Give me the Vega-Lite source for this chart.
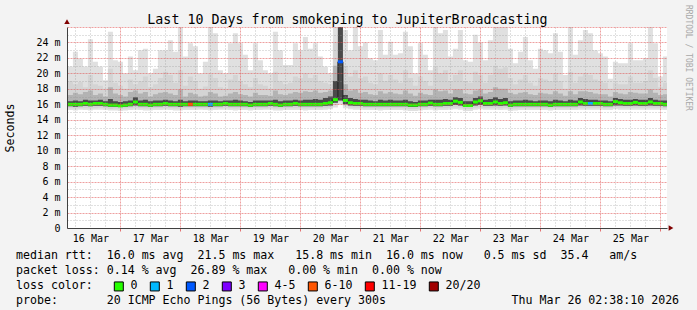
{
  "width": 600,
  "height": 201,
  "autosize": {"type": "none"},
  "padding": {"left": 67, "top": 27, "right": 30, "bottom": 82},
  "background": "#f3f3f3",
  "config": {
    "view": {"fill": "#ffffff", "stroke": null},
    "font": "DejaVu Sans Mono",
    "axis": {"labelFont": "DejaVu Sans Mono", "titleFont": "DejaVu Sans Mono", "titleFontWeight": "normal", "titleColor": "#000000", "labelColor": "#000000"}
  },
  "title": {
    "text": "Last 10 Days from smokeping to JupiterBroadcasting",
    "anchor": "middle", "frame": "group", "dx": -19.5, "dy": 15, "offset": -17.2,
    "baseline": "alphabetic", "font": "DejaVu Sans Mono", "fontSize": 13.3, "fontWeight": "normal", "color": "#000000"
  },
  "data": {"values": [
    {"t":"2026-03-16T02:00:00Z","m":16.0,"h1":20.9,"h2":19.4,"h3":17.4,"h4":16.5,"l1":15.2,"l2":15.45,"l3":15.75,"loss":"0"},
    {"t":"2026-03-16T04:00:00Z","m":16.0,"h1":20.9,"h2":19.0,"h3":17.2,"h4":16.4,"l1":15.25,"l2":15.5,"l3":15.75,"loss":"0"},
    {"t":"2026-03-16T06:00:00Z","m":16.0,"h1":22.8,"h2":18.6,"h3":17.5,"h4":16.5,"l1":15.2,"l2":15.45,"l3":15.7,"loss":"0"},
    {"t":"2026-03-16T08:00:00Z","m":16.0,"h1":21.9,"h2":18.9,"h3":17.3,"h4":16.4,"l1":15.3,"l2":15.5,"l3":15.75,"loss":"0"},
    {"t":"2026-03-16T10:00:00Z","m":16.1,"h1":20.9,"h2":18.2,"h3":17.6,"h4":16.6,"l1":15.25,"l2":15.5,"l3":15.8,"loss":"0"},
    {"t":"2026-03-16T12:00:00Z","m":16.0,"h1":24.4,"h2":19.8,"h3":17.8,"h4":16.5,"l1":15.2,"l2":15.45,"l3":15.75,"loss":"0"},
    {"t":"2026-03-16T14:00:00Z","m":16.1,"h1":21.5,"h2":18.6,"h3":17.2,"h4":16.5,"l1":15.3,"l2":15.5,"l3":15.8,"loss":"0"},
    {"t":"2026-03-16T16:00:00Z","m":16.1,"h1":20.9,"h2":18.4,"h3":17.4,"h4":16.6,"l1":15.3,"l2":15.55,"l3":15.8,"loss":"0"},
    {"t":"2026-03-16T18:00:00Z","m":16.0,"h1":19.1,"h2":18.0,"h3":17.0,"h4":16.4,"l1":15.25,"l2":15.5,"l3":15.75,"loss":"0"},
    {"t":"2026-03-16T20:00:00Z","m":15.9,"h1":25.4,"h2":20.6,"h3":18.2,"h4":16.7,"l1":15.2,"l2":15.4,"l3":15.7,"loss":"0"},
    {"t":"2026-03-16T22:00:00Z","m":15.9,"h1":21.7,"h2":18.8,"h3":17.4,"h4":16.4,"l1":15.2,"l2":15.45,"l3":15.7,"loss":"0"},
    {"t":"2026-03-17T00:00:00Z","m":15.8,"h1":21.5,"h2":18.4,"h3":17.2,"h4":16.3,"l1":15.15,"l2":15.4,"l3":15.65,"loss":"0"},
    {"t":"2026-03-17T02:00:00Z","m":15.9,"h1":20.0,"h2":18.0,"h3":17.0,"h4":16.4,"l1":15.2,"l2":15.45,"l3":15.7,"loss":"0"},
    {"t":"2026-03-17T04:00:00Z","m":16.0,"h1":22.2,"h2":19.2,"h3":17.6,"h4":16.5,"l1":15.25,"l2":15.5,"l3":15.75,"loss":"0"},
    {"t":"2026-03-17T06:00:00Z","m":16.3,"h1":20.4,"h2":18.6,"h3":17.8,"h4":16.9,"l1":15.3,"l2":15.55,"l3":15.85,"loss":"0"},
    {"t":"2026-03-17T08:00:00Z","m":16.0,"h1":23.0,"h2":19.0,"h3":17.4,"h4":16.5,"l1":15.25,"l2":15.5,"l3":15.75,"loss":"0"},
    {"t":"2026-03-17T10:00:00Z","m":16.0,"h1":23.2,"h2":19.6,"h3":17.6,"h4":16.6,"l1":15.2,"l2":15.45,"l3":15.75,"loss":"0"},
    {"t":"2026-03-17T12:00:00Z","m":15.9,"h1":20.0,"h2":18.2,"h3":17.0,"h4":16.4,"l1":15.2,"l2":15.45,"l3":15.7,"loss":"0"},
    {"t":"2026-03-17T14:00:00Z","m":16.0,"h1":20.6,"h2":18.6,"h3":17.3,"h4":16.5,"l1":15.25,"l2":15.5,"l3":15.75,"loss":"0"},
    {"t":"2026-03-17T16:00:00Z","m":16.0,"h1":23.0,"h2":19.4,"h3":17.5,"h4":16.5,"l1":15.25,"l2":15.5,"l3":15.75,"loss":"0"},
    {"t":"2026-03-17T18:00:00Z","m":16.1,"h1":23.0,"h2":20.2,"h3":17.6,"h4":16.6,"l1":15.3,"l2":15.5,"l3":15.8,"loss":"0"},
    {"t":"2026-03-17T20:00:00Z","m":16.0,"h1":24.3,"h2":19.8,"h3":17.4,"h4":16.5,"l1":15.25,"l2":15.5,"l3":15.75,"loss":"0"},
    {"t":"2026-03-17T22:00:00Z","m":16.0,"h1":22.8,"h2":18.8,"h3":17.2,"h4":16.4,"l1":15.2,"l2":15.45,"l3":15.75,"loss":"0"},
    {"t":"2026-03-18T00:00:00Z","m":16.0,"h1":26.5,"h2":20.4,"h3":17.9,"h4":16.6,"l1":15.2,"l2":15.45,"l3":15.7,"loss":"0"},
    {"t":"2026-03-18T02:00:00Z","m":16.0,"h1":22.2,"h2":18.4,"h3":17.0,"h4":16.4,"l1":15.25,"l2":15.5,"l3":15.75,"loss":"0"},
    {"t":"2026-03-18T04:00:00Z","m":16.0,"h1":23.9,"h2":19.6,"h3":17.5,"h4":16.5,"l1":15.25,"l2":15.5,"l3":15.75,"loss":"6-10"},
    {"t":"2026-03-18T06:00:00Z","m":16.0,"h1":23.5,"h2":19.0,"h3":17.3,"h4":16.5,"l1":15.25,"l2":15.5,"l3":15.75,"loss":"0"},
    {"t":"2026-03-18T08:00:00Z","m":16.0,"h1":20.0,"h2":18.0,"h3":17.0,"h4":16.4,"l1":15.3,"l2":15.5,"l3":15.75,"loss":"0"},
    {"t":"2026-03-18T10:00:00Z","m":16.0,"h1":21.5,"h2":18.3,"h3":17.1,"h4":16.4,"l1":15.25,"l2":15.5,"l3":15.75,"loss":"0"},
    {"t":"2026-03-18T12:00:00Z","m":16.0,"h1":26.5,"h2":19.9,"h3":17.6,"h4":16.5,"l1":15.2,"l2":15.45,"l3":15.7,"loss":"1"},
    {"t":"2026-03-18T14:00:00Z","m":16.0,"h1":25.2,"h2":19.4,"h3":17.4,"h4":16.5,"l1":15.25,"l2":15.5,"l3":15.75,"loss":"0"},
    {"t":"2026-03-18T16:00:00Z","m":16.0,"h1":20.4,"h2":18.2,"h3":17.0,"h4":16.4,"l1":15.3,"l2":15.5,"l3":15.75,"loss":"0"},
    {"t":"2026-03-18T18:00:00Z","m":16.1,"h1":20.0,"h2":18.0,"h3":17.1,"h4":16.5,"l1":15.3,"l2":15.55,"l3":15.8,"loss":"0"},
    {"t":"2026-03-18T20:00:00Z","m":16.0,"h1":23.9,"h2":19.2,"h3":17.4,"h4":16.5,"l1":15.25,"l2":15.5,"l3":15.75,"loss":"0"},
    {"t":"2026-03-18T22:00:00Z","m":16.0,"h1":25.2,"h2":19.8,"h3":17.6,"h4":16.6,"l1":15.2,"l2":15.45,"l3":15.75,"loss":"0"},
    {"t":"2026-03-19T00:00:00Z","m":16.0,"h1":23.9,"h2":19.0,"h3":17.3,"h4":16.5,"l1":15.25,"l2":15.5,"l3":15.75,"loss":"0"},
    {"t":"2026-03-19T02:00:00Z","m":16.0,"h1":22.4,"h2":18.6,"h3":17.2,"h4":16.4,"l1":15.25,"l2":15.5,"l3":15.75,"loss":"0"},
    {"t":"2026-03-19T04:00:00Z","m":15.9,"h1":20.4,"h2":18.2,"h3":17.0,"h4":16.3,"l1":15.2,"l2":15.45,"l3":15.7,"loss":"0"},
    {"t":"2026-03-19T06:00:00Z","m":16.0,"h1":23.9,"h2":19.4,"h3":17.5,"h4":16.5,"l1":15.25,"l2":15.5,"l3":15.75,"loss":"0"},
    {"t":"2026-03-19T08:00:00Z","m":16.0,"h1":21.7,"h2":18.6,"h3":17.2,"h4":16.5,"l1":15.25,"l2":15.5,"l3":15.75,"loss":"0"},
    {"t":"2026-03-19T10:00:00Z","m":16.0,"h1":20.4,"h2":18.4,"h3":17.2,"h4":16.5,"l1":15.3,"l2":15.5,"l3":15.75,"loss":"0"},
    {"t":"2026-03-19T12:00:00Z","m":16.1,"h1":20.0,"h2":18.0,"h3":17.1,"h4":16.5,"l1":15.3,"l2":15.55,"l3":15.8,"loss":"0"},
    {"t":"2026-03-19T14:00:00Z","m":16.0,"h1":25.4,"h2":20.2,"h3":17.8,"h4":16.6,"l1":15.2,"l2":15.45,"l3":15.75,"loss":"0"},
    {"t":"2026-03-19T16:00:00Z","m":15.9,"h1":23.0,"h2":19.0,"h3":17.3,"h4":16.4,"l1":15.2,"l2":15.45,"l3":15.7,"loss":"0"},
    {"t":"2026-03-19T18:00:00Z","m":16.0,"h1":21.1,"h2":18.6,"h3":17.2,"h4":16.5,"l1":15.25,"l2":15.5,"l3":15.75,"loss":"0"},
    {"t":"2026-03-19T20:00:00Z","m":16.0,"h1":21.1,"h2":18.8,"h3":17.4,"h4":16.5,"l1":15.25,"l2":15.5,"l3":15.75,"loss":"0"},
    {"t":"2026-03-19T22:00:00Z","m":16.1,"h1":23.9,"h2":19.6,"h3":17.6,"h4":16.6,"l1":15.25,"l2":15.5,"l3":15.8,"loss":"0"},
    {"t":"2026-03-20T00:00:00Z","m":16.0,"h1":23.0,"h2":19.4,"h3":17.5,"h4":16.5,"l1":15.25,"l2":15.5,"l3":15.75,"loss":"0"},
    {"t":"2026-03-20T02:00:00Z","m":16.0,"h1":24.7,"h2":20.0,"h3":17.7,"h4":16.6,"l1":15.2,"l2":15.45,"l3":15.75,"loss":"0"},
    {"t":"2026-03-20T04:00:00Z","m":16.0,"h1":23.2,"h2":19.4,"h3":17.6,"h4":16.6,"l1":15.25,"l2":15.5,"l3":15.75,"loss":"0"},
    {"t":"2026-03-20T06:00:00Z","m":16.0,"h1":23.9,"h2":19.8,"h3":17.8,"h4":16.7,"l1":15.25,"l2":15.5,"l3":15.75,"loss":"0"},
    {"t":"2026-03-20T08:00:00Z","m":16.0,"h1":22.2,"h2":19.0,"h3":17.5,"h4":16.6,"l1":15.25,"l2":15.5,"l3":15.75,"loss":"0"},
    {"t":"2026-03-20T10:00:00Z","m":16.1,"h1":20.9,"h2":18.8,"h3":17.6,"h4":16.8,"l1":15.3,"l2":15.55,"l3":15.8,"loss":"0"},
    {"t":"2026-03-20T12:00:00Z","m":16.2,"h1":20.0,"h2":18.6,"h3":17.8,"h4":17.0,"l1":15.35,"l2":15.6,"l3":15.85,"loss":"0"},
    {"t":"2026-03-20T14:00:00Z","m":16.6,"h1":26.5,"h2":24.0,"h3":21.0,"h4":19.0,"l1":15.6,"l2":15.9,"l3":16.2,"loss":"0"},
    {"t":"2026-03-20T16:00:00Z","m":21.5,"h1":26.5,"h2":26.5,"h3":26.5,"h4":26.5,"l1":16.0,"l2":16.3,"l3":16.5,"loss":"2"},
    {"t":"2026-03-20T18:00:00Z","m":16.5,"h1":25.6,"h2":21.0,"h3":18.6,"h4":17.2,"l1":15.5,"l2":15.8,"l3":16.0,"loss":"0"},
    {"t":"2026-03-20T20:00:00Z","m":16.2,"h1":23.0,"h2":19.6,"h3":17.8,"h4":16.8,"l1":15.35,"l2":15.6,"l3":15.85,"loss":"0"},
    {"t":"2026-03-20T22:00:00Z","m":16.1,"h1":26.5,"h2":20.4,"h3":17.9,"h4":16.7,"l1":15.3,"l2":15.55,"l3":15.8,"loss":"0"},
    {"t":"2026-03-21T00:00:00Z","m":16.1,"h1":23.5,"h2":19.4,"h3":17.5,"h4":16.6,"l1":15.3,"l2":15.55,"l3":15.8,"loss":"0"},
    {"t":"2026-03-21T02:00:00Z","m":16.0,"h1":24.0,"h2":19.6,"h3":17.6,"h4":16.6,"l1":15.25,"l2":15.5,"l3":15.75,"loss":"0"},
    {"t":"2026-03-21T04:00:00Z","m":16.0,"h1":21.95,"h2":18.8,"h3":17.3,"h4":16.5,"l1":15.25,"l2":15.5,"l3":15.75,"loss":"0"},
    {"t":"2026-03-21T06:00:00Z","m":16.0,"h1":21.7,"h2":18.6,"h3":17.2,"h4":16.4,"l1":15.25,"l2":15.5,"l3":15.75,"loss":"0"},
    {"t":"2026-03-21T08:00:00Z","m":16.0,"h1":25.6,"h2":20.0,"h3":17.7,"h4":16.6,"l1":15.2,"l2":15.45,"l3":15.75,"loss":"0"},
    {"t":"2026-03-21T10:00:00Z","m":16.0,"h1":22.4,"h2":19.0,"h3":17.4,"h4":16.5,"l1":15.25,"l2":15.5,"l3":15.75,"loss":"0"},
    {"t":"2026-03-21T12:00:00Z","m":16.0,"h1":24.1,"h2":19.8,"h3":17.6,"h4":16.6,"l1":15.25,"l2":15.5,"l3":15.75,"loss":"0"},
    {"t":"2026-03-21T14:00:00Z","m":16.0,"h1":22.4,"h2":19.2,"h3":17.4,"h4":16.5,"l1":15.25,"l2":15.5,"l3":15.75,"loss":"0"},
    {"t":"2026-03-21T16:00:00Z","m":16.0,"h1":22.6,"h2":18.8,"h3":17.3,"h4":16.5,"l1":15.25,"l2":15.5,"l3":15.75,"loss":"0"},
    {"t":"2026-03-21T18:00:00Z","m":16.0,"h1":25.4,"h2":20.4,"h3":17.8,"h4":16.6,"l1":15.2,"l2":15.45,"l3":15.75,"loss":"0"},
    {"t":"2026-03-21T20:00:00Z","m":15.9,"h1":23.5,"h2":19.4,"h3":17.4,"h4":16.4,"l1":15.15,"l2":15.4,"l3":15.65,"loss":"0"},
    {"t":"2026-03-21T22:00:00Z","m":15.9,"h1":20.0,"h2":18.4,"h3":17.1,"h4":16.3,"l1":15.15,"l2":15.4,"l3":15.65,"loss":"0"},
    {"t":"2026-03-22T00:00:00Z","m":16.0,"h1":23.9,"h2":19.6,"h3":17.5,"h4":16.5,"l1":15.2,"l2":15.45,"l3":15.75,"loss":"0"},
    {"t":"2026-03-22T02:00:00Z","m":16.0,"h1":22.4,"h2":19.0,"h3":17.3,"h4":16.5,"l1":15.25,"l2":15.5,"l3":15.75,"loss":"0"},
    {"t":"2026-03-22T04:00:00Z","m":16.15,"h1":20.4,"h2":18.4,"h3":17.2,"h4":16.6,"l1":15.3,"l2":15.55,"l3":15.8,"loss":"0"},
    {"t":"2026-03-22T06:00:00Z","m":16.0,"h1":26.5,"h2":20.8,"h3":17.9,"h4":16.6,"l1":15.2,"l2":15.45,"l3":15.75,"loss":"0"},
    {"t":"2026-03-22T08:00:00Z","m":16.0,"h1":25.2,"h2":20.0,"h3":17.7,"h4":16.6,"l1":15.25,"l2":15.5,"l3":15.75,"loss":"0"},
    {"t":"2026-03-22T10:00:00Z","m":16.1,"h1":25.6,"h2":20.4,"h3":17.8,"h4":16.7,"l1":15.25,"l2":15.5,"l3":15.8,"loss":"0"},
    {"t":"2026-03-22T12:00:00Z","m":16.1,"h1":22.2,"h2":19.0,"h3":17.4,"h4":16.6,"l1":15.3,"l2":15.55,"l3":15.8,"loss":"0"},
    {"t":"2026-03-22T14:00:00Z","m":16.4,"h1":23.2,"h2":19.8,"h3":17.9,"h4":16.9,"l1":15.35,"l2":15.6,"l3":15.9,"loss":"0"},
    {"t":"2026-03-22T16:00:00Z","m":16.25,"h1":25.6,"h2":20.4,"h3":17.9,"h4":16.8,"l1":15.3,"l2":15.55,"l3":15.85,"loss":"0"},
    {"t":"2026-03-22T18:00:00Z","m":15.85,"h1":21.7,"h2":19.0,"h3":17.4,"h4":16.4,"l1":15.15,"l2":15.4,"l3":15.65,"loss":"0"},
    {"t":"2026-03-22T20:00:00Z","m":15.85,"h1":21.5,"h2":18.8,"h3":17.3,"h4":16.4,"l1":15.15,"l2":15.4,"l3":15.65,"loss":"0"},
    {"t":"2026-03-22T22:00:00Z","m":16.3,"h1":25.0,"h2":20.2,"h3":17.8,"h4":16.8,"l1":15.3,"l2":15.55,"l3":15.85,"loss":"0"},
    {"t":"2026-03-23T00:00:00Z","m":16.45,"h1":24.0,"h2":19.8,"h3":17.9,"h4":17.0,"l1":15.35,"l2":15.6,"l3":15.9,"loss":"0"},
    {"t":"2026-03-23T02:00:00Z","m":16.1,"h1":21.7,"h2":18.8,"h3":17.4,"h4":16.6,"l1":15.3,"l2":15.55,"l3":15.8,"loss":"0"},
    {"t":"2026-03-23T04:00:00Z","m":16.1,"h1":24.3,"h2":19.8,"h3":17.6,"h4":16.7,"l1":15.3,"l2":15.55,"l3":15.8,"loss":"0"},
    {"t":"2026-03-23T06:00:00Z","m":16.3,"h1":26.5,"h2":21.0,"h3":18.2,"h4":16.9,"l1":15.3,"l2":15.55,"l3":15.85,"loss":"0"},
    {"t":"2026-03-23T08:00:00Z","m":16.1,"h1":26.5,"h2":20.6,"h3":18.0,"h4":16.7,"l1":15.25,"l2":15.5,"l3":15.8,"loss":"0"},
    {"t":"2026-03-23T10:00:00Z","m":16.2,"h1":26.5,"h2":20.8,"h3":18.0,"h4":16.8,"l1":15.3,"l2":15.55,"l3":15.85,"loss":"0"},
    {"t":"2026-03-23T12:00:00Z","m":15.9,"h1":23.2,"h2":19.4,"h3":17.5,"h4":16.4,"l1":15.15,"l2":15.4,"l3":15.7,"loss":"0"},
    {"t":"2026-03-23T14:00:00Z","m":16.0,"h1":21.3,"h2":18.6,"h3":17.3,"h4":16.5,"l1":15.2,"l2":15.45,"l3":15.75,"loss":"0"},
    {"t":"2026-03-23T16:00:00Z","m":16.0,"h1":22.8,"h2":19.2,"h3":17.5,"h4":16.5,"l1":15.25,"l2":15.5,"l3":15.75,"loss":"0"},
    {"t":"2026-03-23T18:00:00Z","m":16.0,"h1":24.7,"h2":19.8,"h3":17.6,"h4":16.6,"l1":15.25,"l2":15.5,"l3":15.75,"loss":"0"},
    {"t":"2026-03-23T20:00:00Z","m":16.0,"h1":21.7,"h2":18.8,"h3":17.3,"h4":16.5,"l1":15.25,"l2":15.5,"l3":15.75,"loss":"0"},
    {"t":"2026-03-23T22:00:00Z","m":16.0,"h1":20.6,"h2":18.4,"h3":17.2,"h4":16.4,"l1":15.25,"l2":15.5,"l3":15.75,"loss":"0"},
    {"t":"2026-03-24T00:00:00Z","m":16.0,"h1":23.2,"h2":19.4,"h3":17.5,"h4":16.5,"l1":15.25,"l2":15.5,"l3":15.75,"loss":"0"},
    {"t":"2026-03-24T02:00:00Z","m":16.0,"h1":23.0,"h2":19.2,"h3":17.4,"h4":16.5,"l1":15.25,"l2":15.5,"l3":15.75,"loss":"0"},
    {"t":"2026-03-24T04:00:00Z","m":15.9,"h1":22.6,"h2":19.0,"h3":17.3,"h4":16.4,"l1":15.2,"l2":15.45,"l3":15.7,"loss":"0"},
    {"t":"2026-03-24T06:00:00Z","m":16.0,"h1":25.2,"h2":20.0,"h3":17.7,"h4":16.6,"l1":15.25,"l2":15.5,"l3":15.75,"loss":"0"},
    {"t":"2026-03-24T08:00:00Z","m":16.0,"h1":22.8,"h2":19.0,"h3":17.4,"h4":16.5,"l1":15.25,"l2":15.5,"l3":15.75,"loss":"0"},
    {"t":"2026-03-24T10:00:00Z","m":16.0,"h1":19.8,"h2":18.0,"h3":17.1,"h4":16.4,"l1":15.25,"l2":15.5,"l3":15.75,"loss":"0"},
    {"t":"2026-03-24T12:00:00Z","m":16.0,"h1":26.5,"h2":20.2,"h3":17.7,"h4":16.6,"l1":15.25,"l2":15.5,"l3":15.75,"loss":"0"},
    {"t":"2026-03-24T14:00:00Z","m":16.0,"h1":22.4,"h2":18.8,"h3":17.3,"h4":16.5,"l1":15.25,"l2":15.5,"l3":15.75,"loss":"0"},
    {"t":"2026-03-24T16:00:00Z","m":16.3,"h1":24.3,"h2":19.6,"h3":17.7,"h4":16.8,"l1":15.3,"l2":15.55,"l3":15.85,"loss":"0"},
    {"t":"2026-03-24T18:00:00Z","m":16.1,"h1":25.6,"h2":20.0,"h3":17.7,"h4":16.7,"l1":15.3,"l2":15.55,"l3":15.8,"loss":"0"},
    {"t":"2026-03-24T20:00:00Z","m":16.1,"h1":25.2,"h2":19.8,"h3":17.6,"h4":16.6,"l1":15.3,"l2":15.55,"l3":15.8,"loss":"1"},
    {"t":"2026-03-24T22:00:00Z","m":16.1,"h1":23.0,"h2":19.2,"h3":17.4,"h4":16.6,"l1":15.3,"l2":15.55,"l3":15.8,"loss":"0"},
    {"t":"2026-03-25T00:00:00Z","m":16.1,"h1":22.6,"h2":19.0,"h3":17.3,"h4":16.5,"l1":15.3,"l2":15.55,"l3":15.8,"loss":"0"},
    {"t":"2026-03-25T02:00:00Z","m":16.0,"h1":22.2,"h2":18.8,"h3":17.3,"h4":16.5,"l1":15.25,"l2":15.5,"l3":15.75,"loss":"0"},
    {"t":"2026-03-25T04:00:00Z","m":16.0,"h1":19.3,"h2":18.0,"h3":17.0,"h4":16.4,"l1":15.25,"l2":15.5,"l3":15.75,"loss":"0"},
    {"t":"2026-03-25T06:00:00Z","m":16.35,"h1":21.5,"h2":18.8,"h3":17.6,"h4":16.8,"l1":15.35,"l2":15.6,"l3":15.85,"loss":"0"},
    {"t":"2026-03-25T08:00:00Z","m":16.2,"h1":21.3,"h2":18.6,"h3":17.4,"h4":16.7,"l1":15.3,"l2":15.55,"l3":15.85,"loss":"0"},
    {"t":"2026-03-25T10:00:00Z","m":16.1,"h1":21.3,"h2":18.6,"h3":17.3,"h4":16.6,"l1":15.3,"l2":15.55,"l3":15.8,"loss":"0"},
    {"t":"2026-03-25T12:00:00Z","m":16.1,"h1":23.9,"h2":19.6,"h3":17.6,"h4":16.6,"l1":15.3,"l2":15.55,"l3":15.8,"loss":"0"},
    {"t":"2026-03-25T14:00:00Z","m":16.25,"h1":21.7,"h2":18.8,"h3":17.5,"h4":16.7,"l1":15.3,"l2":15.55,"l3":15.85,"loss":"0"},
    {"t":"2026-03-25T16:00:00Z","m":16.1,"h1":21.7,"h2":18.8,"h3":17.4,"h4":16.6,"l1":15.3,"l2":15.55,"l3":15.8,"loss":"0"},
    {"t":"2026-03-25T18:00:00Z","m":16.1,"h1":21.95,"h2":19.0,"h3":17.4,"h4":16.6,"l1":15.3,"l2":15.55,"l3":15.8,"loss":"0"},
    {"t":"2026-03-25T20:00:00Z","m":16.3,"h1":26.5,"h2":20.4,"h3":17.9,"h4":16.8,"l1":15.3,"l2":15.55,"l3":15.85,"loss":"0"},
    {"t":"2026-03-25T22:00:00Z","m":16.1,"h1":23.9,"h2":19.4,"h3":17.5,"h4":16.6,"l1":15.3,"l2":15.55,"l3":15.8,"loss":"0"},
    {"t":"2026-03-26T00:00:00Z","m":16.1,"h1":19.6,"h2":18.2,"h3":17.2,"h4":16.5,"l1":15.3,"l2":15.55,"l3":15.8,"loss":"0"},
    {"t":"2026-03-26T02:00:00Z","m":16.0,"h1":22.2,"h2":18.8,"h3":17.3,"h4":16.5,"l1":15.25,"l2":15.5,"l3":15.75,"loss":"0"},
    {"t":"2026-03-26T04:00:00Z","m":16.0,"h1":20.9,"h2":18.4,"h3":17.2,"h4":16.5,"l1":15.25,"l2":15.5,"l3":15.75,"loss":"0"}
  ]},
  "layer": [
    {
      "mark": {"type": "area", "interpolate": "step", "color": "#e0e0e0", "clip": true},
      "encoding": {
        "x": {
          "field": "t", "type": "temporal",
          "scale": {"type": "utc", "nice": false, "domain": [1773628690000, 1774492690000]},
          "axis": {
            "orient": "bottom",
            "values": [1773640800000,1773662400000,1773684000000,1773705600000,1773727200000,1773748800000,1773770400000,1773792000000,1773813600000,1773835200000,1773856800000,1773878400000,1773900000000,1773921600000,1773943200000,1773964800000,1773986400000,1774008000000,1774029600000,1774051200000,1774072800000,1774094400000,1774116000000,1774137600000,1774159200000,1774180800000,1774202400000,1774224000000,1774245600000,1774267200000,1774288800000,1774310400000,1774332000000,1774353600000,1774375200000,1774396800000,1774418400000,1774440000000,1774461600000,1774483200000],
            "tickCount": 100,
            "labelExpr": "utchours(datum.value) == 12 ? utcFormat(datum.value, '%d %b') : ''",
            "labelOverlap": false, "labelFlush": false, "labelBound": false,
            "labelFontSize": 10, "labelPadding": 2, "labelAngle": 0,
            "ticks": true, "tickSize": 3, "tickColor": "#e05050",
            "tickOpacity": {"condition": {"test": "utchours(datum.value) == 0", "value": 0.8}, "value": 0},
            "domain": true, "domainColor": "#404040",
            "grid": true,
            "gridColor": {"condition": {"test": "utchours(datum.value) == 0", "value": "#e05050"}, "value": "#909090"},
            "gridDash": {"condition": {"test": "utchours(datum.value) == 0", "value": [2, 1]}, "value": [1, 2]},
            "gridOpacity": 0.55,
            "zindex": 1,
            "title": [
              "median rtt:\u00a0\u00a016.0 ms avg\u00a0\u00a021.5 ms max\u00a0\u00a0\u00a015.8 ms min\u00a0\u00a016.0 ms now\u00a0\u00a0\u00a00.5 ms sd\u00a0\u00a035.4\u00a0\u00a0\u00a0am/s",
              "packet loss: 0.14 % avg\u00a0\u00a026.89 % max\u00a0\u00a0\u00a00.00 % min\u00a0\u00a00.00 % now",
              "loss color:",
              "probe:\u00a0\u00a0\u00a0\u00a0\u00a0\u00a0\u00a020 ICMP Echo Pings (56 Bytes) every 300s\u00a0\u00a0\u00a0\u00a0\u00a0\u00a0\u00a0\u00a0\u00a0\u00a0\u00a0\u00a0\u00a0\u00a0\u00a0\u00a0\u00a0\u00a0Thu Mar 26 02:38:10 2026"
            ],
            "titleX": -51.5, "titleY": 30.5, "titleAlign": "left", "titleAnchor": "start",
            "titleBaseline": "alphabetic", "titleFontSize": 11.6, "titleLineHeight": 15
          }
        },
        "y": {
          "field": "h1", "type": "quantitative",
          "scale": {"domain": [0, 26], "nice": false, "zero": false},
          "axis": {
            "orient": "left",
            "values": [0,1,2,3,4,5,6,7,8,9,10,11,12,13,14,15,16,17,18,19,20,21,22,23,24,25,26],
            "tickCount": 100,
            "labelExpr": "datum.value % 2 == 0 && datum.value < 26 ? (datum.value == 0 ? '0' : datum.value + ' m') : ''",
            "labelOverlap": false, "labelFlush": false, "labelBound": false,
            "labelFontSize": 10, "labelPadding": 7,
            "ticks": false, "tickSize": 0,
            "domain": true, "domainColor": "#404040",
            "grid": true,
            "gridColor": {"condition": {"test": "datum.value % 2 == 0", "value": "#e05050"}, "value": "#909090"},
            "gridDash": {"condition": {"test": "datum.value % 2 == 0", "value": [2, 1]}, "value": [1, 2]},
            "gridOpacity": 0.55,
            "zindex": 1,
            "title": "Seconds",
            "titleX": -54, "titleY": 100.5, "titleAngle": -90, "titleAlign": "center",
            "titleBaseline": "alphabetic", "titleFontSize": 11.6
          }
        },
        "y2": {"field": "l1"}
      }
    },
    {
      "mark": {"type": "area", "interpolate": "step", "color": "#d4d4d4", "clip": true},
      "encoding": {
        "x": {"field": "t", "type": "temporal"},
        "y": {"field": "h2", "type": "quantitative"},
        "y2": {"field": "l2"}
      }
    },
    {
      "mark": {"type": "area", "interpolate": "step", "color": "#b3b3b3", "clip": true},
      "encoding": {
        "x": {"field": "t", "type": "temporal"},
        "y": {"field": "h3", "type": "quantitative"},
        "y2": {"field": "l3"}
      }
    },
    {
      "mark": {"type": "area", "interpolate": "step", "color": "#4a4a4a", "clip": true},
      "encoding": {
        "x": {"field": "t", "type": "temporal"},
        "y": {"field": "h4", "type": "quantitative"},
        "y2": {"field": "l3"}
      }
    },
    {
      "mark": {"type": "line", "interpolate": "step", "color": "#202020", "strokeWidth": 1, "clip": true},
      "encoding": {
        "x": {"field": "t", "type": "temporal"},
        "y": {"field": "m", "type": "quantitative"}
      }
    },
    {
      "mark": {"type": "tick", "orient": "horizontal", "size": 5, "thickness": 3, "opacity": 1, "clip": true},
      "encoding": {
        "x": {"field": "t", "type": "temporal"},
        "y": {"field": "m", "type": "quantitative"},
        "color": {
          "field": "loss", "type": "nominal",
          "scale": {
            "domain": ["0", "1", "2", "3", "4-5", "6-10", "11-19", "20/20"],
            "range": ["#26ff00", "#00b8ff", "#0059ff", "#7e00ff", "#ff00ff", "#ff5500", "#ff0000", "#a10000"]
          },
          "legend": {
            "orient": "none", "legendX": 46, "legendY": 253.3, "direction": "horizontal",
            "title": null, "symbolType": "square", "symbolSize": 81,
            "symbolStrokeColor": "#000000", "symbolStrokeWidth": 1, "symbolOpacity": 1,
            "labelFont": "DejaVu Sans Mono", "labelFontSize": 11.6, "labelColor": "#000000",
            "labelOffset": 6, "columnPadding": 10, "padding": 0, "labelLimit": 0
          }
        }
      }
    },
    {
      "data": {"values": [{"note": "arrow"}]},
      "mark": {"type": "point", "shape": "triangle-right", "filled": true, "size": 30, "color": "#800000", "opacity": 1},
      "encoding": {
        "x": {"datum": 1774498450000, "type": "temporal"},
        "y": {"datum": 0, "type": "quantitative"}
      }
    },
    {
      "data": {"values": [{"note": "arrow"}]},
      "mark": {"type": "point", "shape": "triangle-up", "filled": true, "size": 30, "color": "#800000", "opacity": 1},
      "encoding": {
        "x": {"datum": 1773628690000, "type": "temporal"},
        "y": {"datum": 26.7, "type": "quantitative"}
      }
    },
    {
      "data": {"values": [{"text": "RRDTOOL / TOBI OETIKER"}]},
      "mark": {"type": "text", "angle": 90, "align": "left", "baseline": "middle", "font": "DejaVu Sans Mono", "fontSize": 8, "color": "#a8a8a8"},
      "encoding": {
        "x": {"datum": 1774522210000, "type": "temporal"},
        "y": {"datum": 28.85, "type": "quantitative"},
        "text": {"field": "text"}
      }
    }
  ]
}
